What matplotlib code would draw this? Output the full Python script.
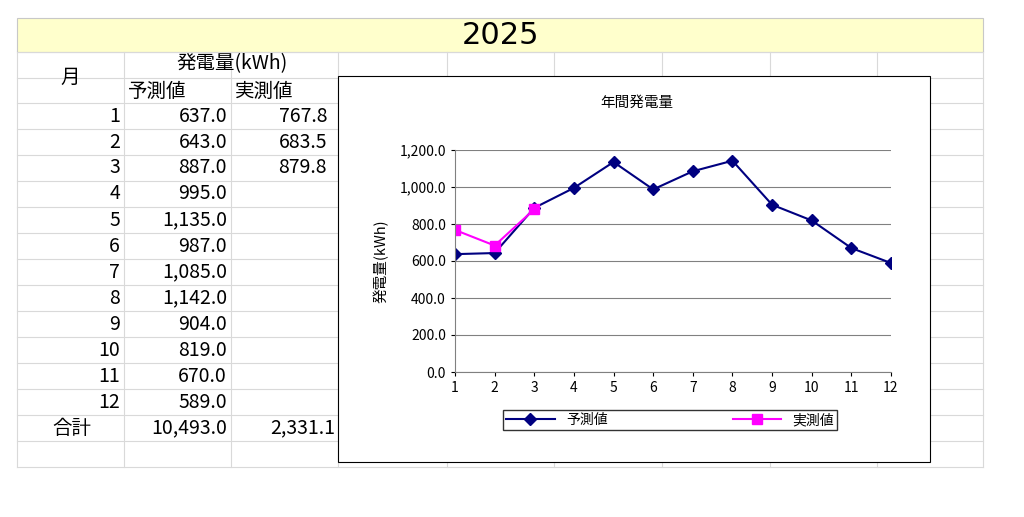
import matplotlib.pyplot as plt
from matplotlib.patches import Rectangle
from matplotlib.lines import Line2D

plt.rcParams['font.family'] = 'Noto Sans CJK JP'

months = list(range(1, 13))
forecast = [637.0, 643.0, 887.0, 995.0, 1135.0, 987.0, 1085.0, 1142.0, 904.0, 819.0, 670.0, 589.0]
actual = [767.8, 683.5, 879.8]
total_forecast = "10,493.0"
total_actual = "2,331.1"

W, H = 1024, 517
fig = plt.figure(figsize=(W / 100, H / 100), dpi=100)


def fx(x):
    return x / W


def fy(y):
    return 1 - y / H


def hline(x0, x1, y, **kw):
    fig.add_artist(Line2D([fx(x0), fx(x1)], [fy(y), fy(y)], **kw))


def vline(x, y0, y1, **kw):
    fig.add_artist(Line2D([fx(x), fx(x)], [fy(y0), fy(y1)], **kw))


# title band
fig.add_artist(Rectangle((fx(17), fy(52)), fx(983) - fx(17), fy(18) - fy(52),
                         facecolor='#ffffcc', edgecolor='#c8c8c8', lw=0.8))
fig.text(fx(500), fy(35), '2025', ha='center', va='center', fontsize=22, family='DejaVu Sans')

# grid
cols = [17, 124, 231, 338, 447, 554, 662, 770, 877, 983]
rows = [52, 78, 103] + [103 + 26 * i for i in range(1, 15)]
g = dict(color='#d9d9d9', lw=0.8)
for x in cols:
    vline(x, 52, 467, **g)
for y in rows:
    hline(17, 983, y, **g)

fs = 14
fig.text(fx(70), fy(77), '月', ha='center', va='center', fontsize=fs)
fig.text(fx(232), fy(64), '発電量(kWh)', ha='center', va='center', fontsize=fs)
fig.text(fx(128), fy(91), '予測値', ha='left', va='center', fontsize=fs)
fig.text(fx(235), fy(91), '実測値', ha='left', va='center', fontsize=fs)
for i, m in enumerate(months):
    yc = 116 + 26 * i
    fig.text(fx(120), fy(yc), str(m), ha='right', va='center', fontsize=fs)
    fig.text(fx(227), fy(yc), f'{forecast[i]:,.1f}', ha='right', va='center', fontsize=fs)
    if i < len(actual):
        fig.text(fx(327), fy(yc), f'{actual[i]:,.1f}', ha='right', va='center', fontsize=fs)
fig.text(fx(72), fy(428), '合計', ha='center', va='center', fontsize=fs)
fig.text(fx(227), fy(428), total_forecast, ha='right', va='center', fontsize=fs)
fig.text(fx(335), fy(428), total_actual, ha='right', va='center', fontsize=fs)

# chart frame
fig.add_artist(Rectangle((fx(338), fy(462)), fx(930) - fx(338), fy(76) - fy(462),
                         facecolor='white', edgecolor='black', lw=0.8, zorder=2))
fig.text(fx(637), fy(103), '年間発電量', ha='center', va='center', fontsize=10.5, zorder=3)

ax = fig.add_axes([fx(455), fy(372), fx(891) - fx(455), fy(150) - fy(372)], zorder=3)
ax.plot(months, forecast, color='#000080', marker='D', markersize=6, lw=1.5, label='予測値')
ax.plot(months[:len(actual)], actual, color='#ff00ff', marker='s', markersize=7, lw=1.5, label='実測値')
ax.set_xlim(1, 12)
ax.set_ylim(0, 1200)
ax.set_yticks(range(0, 1201, 200))
ax.set_yticklabels([f'{v:,.1f}' for v in range(0, 1201, 200)])
ax.set_xticks(months)
ax.grid(axis='y', color='#808080', lw=0.8)
ax.tick_params(labelsize=10, length=3)
for s in ['top', 'right']:
    ax.spines[s].set_visible(False)
for s in ['left', 'bottom']:
    ax.spines[s].set_color('#808080')
ax.set_ylabel('発電量(kWh)', fontsize=10.5, labelpad=8)

fig.legend(loc='center', bbox_to_anchor=(fx(670), fy(420)),
           ncol=2, fontsize=10, frameon=True, fancybox=False,
           edgecolor='black', borderpad=0.2, handlelength=3.5,
           columnspacing=9, borderaxespad=0)

fig.savefig('out.png', dpi=100)
